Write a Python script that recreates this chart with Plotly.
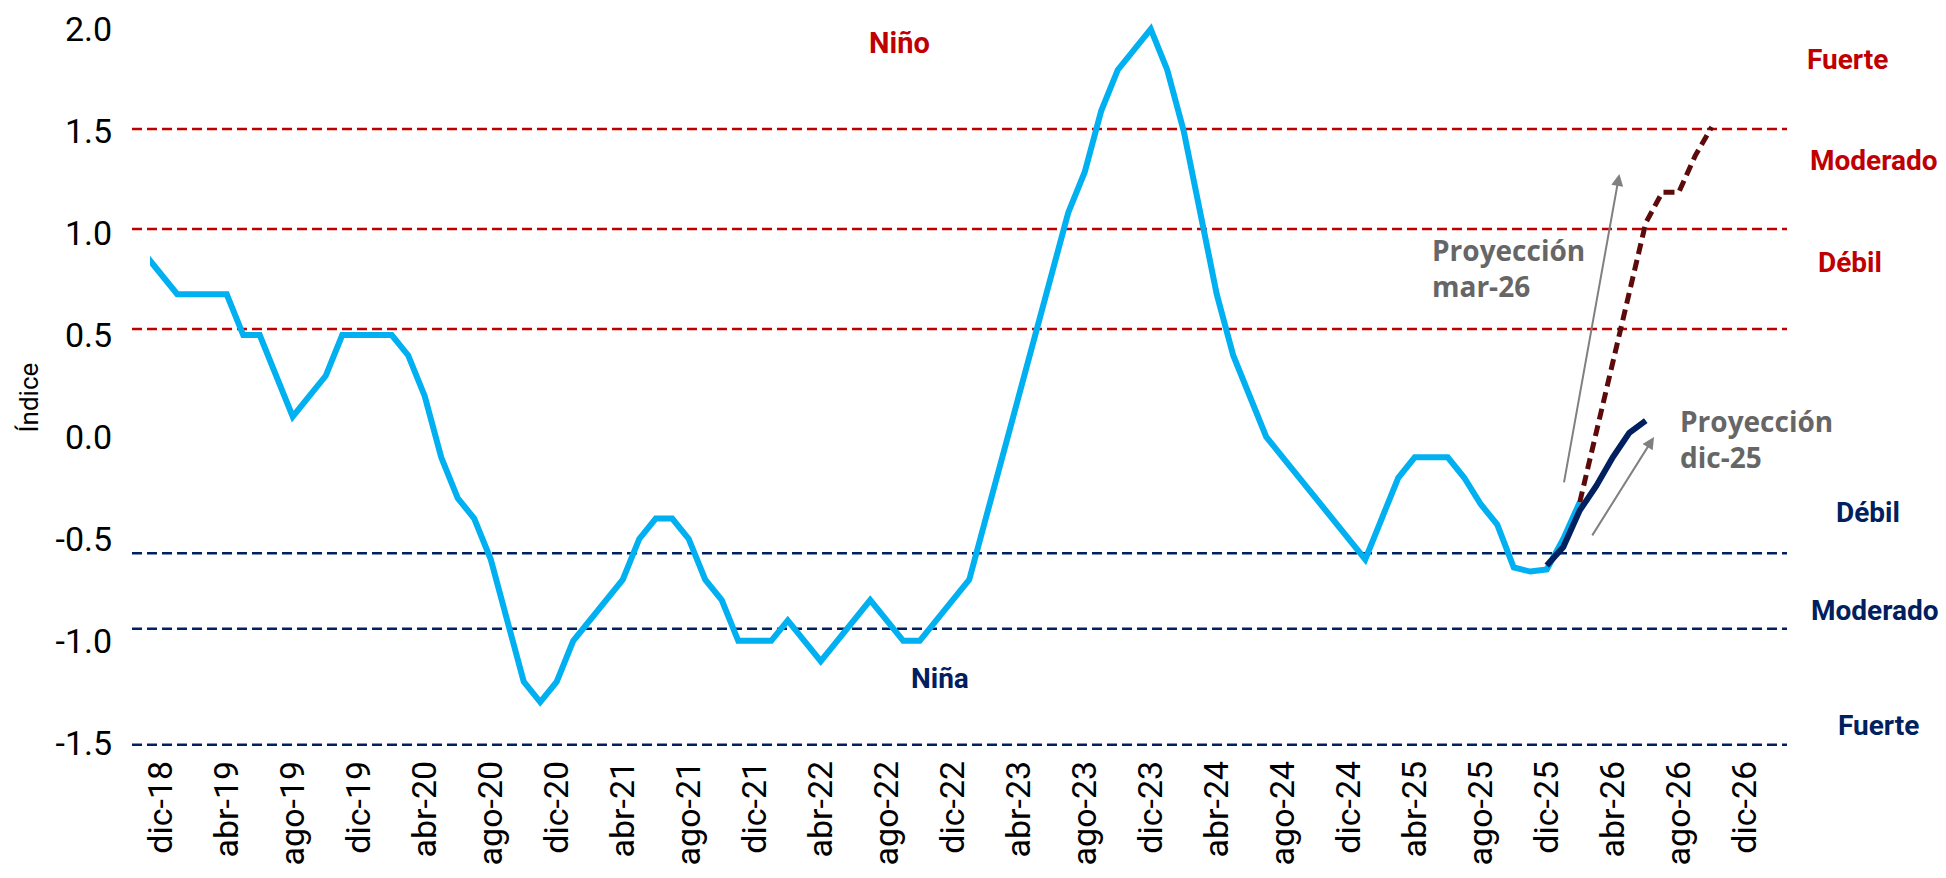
import plotly.graph_objects as go

# ---------------- data ----------------
MES = ["ene", "feb", "mar", "abr", "may", "jun", "jul", "ago", "sep", "oct", "nov", "dic"]
# month labels for the axis: nov-18 ... mar-27
meses = [f"{MES[(10 + i) % 12]}-{18 + (10 + i) // 12:02d}" for i in range(101)]

# observed index (nov-18 .. feb-26)
obs_vals = [0.9, 0.8,
            0.7, 0.7, 0.7, 0.7, 0.5, 0.5, 0.3, 0.1, 0.2, 0.3, 0.5, 0.5,
            0.5, 0.5, 0.4, 0.2, -0.1, -0.3, -0.4, -0.6, -0.9, -1.2, -1.3, -1.2,
            -1.0, -0.9, -0.8, -0.7, -0.5, -0.4, -0.4, -0.5, -0.7, -0.8, -1.0, -1.0,
            -1.0, -0.9, -1.0, -1.1, -1.0, -0.9, -0.8, -0.9, -1.0, -1.0, -0.9, -0.8,
            -0.7, -0.4, -0.1, 0.2, 0.5, 0.8, 1.1, 1.3, 1.6, 1.8, 1.9, 2.0,
            1.8, 1.5, 1.1, 0.7, 0.4, 0.2, 0.0, -0.1, -0.2, -0.3, -0.4, -0.5,
            -0.6, -0.4, -0.2, -0.1, -0.1, -0.1, -0.2, -0.33, -0.43, -0.64, -0.66, -0.65,
            -0.5, -0.32]
obs_months = meses[:len(obs_vals)]

# projection made in dic-25
proy_dic25_months = ["dic-25", "ene-26", "feb-26", "mar-26", "abr-26", "may-26", "jun-26"]
proy_dic25_vals = [-0.63, -0.54, -0.36, -0.24, -0.10, 0.02, 0.08]

# projection made in mar-26
proy_mar26_months = ["feb-26", "mar-26", "abr-26", "may-26", "jun-26", "jul-26", "ago-26", "sep-26", "oct-26"]
proy_mar26_vals = [-0.32, 0.02, 0.38, 0.72, 1.05, 1.2, 1.2, 1.38, 1.52]

# thresholds (Niño red, Niña navy)
umbrales_nino = [1.51, 1.02, 0.53]
umbrales_nina = [-0.57, -0.94, -1.51]

tick_labels = meses[1:98:4]  # dic-18 ... dic-26

# ---------------- styling ----------------
C_OBS = "#00B0F0"
C_NAVY = "#002060"
C_RED = "#C00000"
C_MAROON = "#5C0A0A"
C_GRAY = "#666666"
C_ARROW = "#808080"

idx = {m: i for i, m in enumerate(meses)}

fig = go.Figure()
fig.add_trace(go.Scatter(x=[idx[m] for m in obs_months], y=obs_vals, mode="lines",
                         line=dict(color=C_OBS, width=6), hoverinfo="skip"))
fig.add_trace(go.Scatter(x=[idx[m] for m in proy_dic25_months], y=proy_dic25_vals, mode="lines",
                         line=dict(color=C_NAVY, width=6), hoverinfo="skip"))
fig.add_trace(go.Scatter(x=[idx[m] for m in proy_mar26_months], y=proy_mar26_vals, mode="lines",
                         line=dict(color=C_MAROON, width=5, dash="11px,6px"), hoverinfo="skip"))

for v in umbrales_nino:
    fig.add_shape(type="line", xref="paper", yref="y", x0=-0.011, x1=1.0, y0=v, y1=v,
                  line=dict(color=C_RED, width=2.5, dash="10px,5px"), layer="below")
for v in umbrales_nina:
    fig.add_shape(type="line", xref="paper", yref="y", x0=-0.011, x1=1.0, y0=v, y1=v,
                  line=dict(color=C_NAVY, width=2.5, dash="10px,5px"), layer="below")

lab_font = dict(family="Roboto", size=28, color=C_RED)
nina_font = dict(family="Roboto", size=28, color=C_NAVY)
for txt, x, y in [("Fuerte", 1.0367, 1.849), ("Moderado", 1.0532, 1.354), ("Débil", 1.0385, 0.858)]:
    fig.add_annotation(xref="paper", yref="y", x=x, y=y, text=f"<b>{txt}</b>", showarrow=False,
                       font=lab_font, xanchor="center", yanchor="middle")
for txt, x, y in [("Débil", 1.0495, -0.368), ("Moderado", 1.0538, -0.853), ("Fuerte", 1.0562, -1.417)]:
    fig.add_annotation(xref="paper", yref="y", x=x, y=y, text=f"<b>{txt}</b>", showarrow=False,
                       font=nina_font, xanchor="center", yanchor="middle")

fig.add_annotation(x=45.8, y=1.93, text="<b>Niño</b>", showarrow=False,
                   font=dict(family="Roboto", size=29, color=C_RED))
fig.add_annotation(x=48.2, y=-1.187, text="<b>Niña</b>", showarrow=False,
                   font=dict(family="Roboto", size=28, color=C_NAVY))

proj_font = dict(family="Open Sans", size=28, color=C_GRAY)
fig.add_annotation(x=77.9, y=0.83, text="<b>Proyección<br>mar-26</b>", showarrow=False,
                   font=proj_font, xanchor="left", yanchor="middle", align="left")
fig.add_annotation(x=92.96, y=-0.01, text="<b>Proyección<br>dic-25</b>", showarrow=False,
                   font=proj_font, xanchor="left", yanchor="middle", align="left")

# arrows
fig.add_annotation(x=89.4, y=1.29, ax=86.03, ay=-0.23, xref="x", yref="y", axref="x", ayref="y",
                   text="", showarrow=True, arrowhead=2, arrowsize=1.2, arrowwidth=2, arrowcolor=C_ARROW)
fig.add_annotation(x=91.5, y=0.0, ax=87.7, ay=-0.49, xref="x", yref="y", axref="x", ayref="y",
                   text="", showarrow=True, arrowhead=2, arrowsize=1.2, arrowwidth=2, arrowcolor=C_ARROW)

# y-axis title
fig.add_annotation(xref="paper", yref="paper", x=-0.084, y=0.485, text="Índice", textangle=-90,
                   showarrow=False, font=dict(family="Roboto", size=26, color="#000000"))

fig.update_layout(
    width=1946, height=878,
    margin=dict(l=150, r=159, t=19, b=125),
    paper_bgcolor="white", plot_bgcolor="white",
    showlegend=False,
    xaxis=dict(range=[0.35, 99.56], tickmode="array",
               tickvals=[idx[m] for m in tick_labels], ticktext=tick_labels,
               tickangle=-90, showgrid=False, zeroline=False, showline=False,
               ticks="", automargin=False,
               tickfont=dict(family="Roboto", size=34, color="#000000")),
    yaxis=dict(range=[-1.55, 2.05], tickmode="array",
               tickvals=[-1.5, -1.0, -0.5, 0.0, 0.5, 1.0, 1.5, 2.0],
               ticktext=["-1.5", "-1.0", "-0.5", "0.0", "0.5", "1.0", "1.5", "2.0"],
               showgrid=False, zeroline=False, showline=False,
               ticks="outside", ticklen=30, tickcolor="rgba(0,0,0,0)", automargin=False,
               tickfont=dict(family="Roboto", size=34, color="#000000")),
)

fig.write_html("out.html", config={"displayModeBar": False},
               post_script="document.body.style.margin='0';document.body.style.overflow='hidden';")
